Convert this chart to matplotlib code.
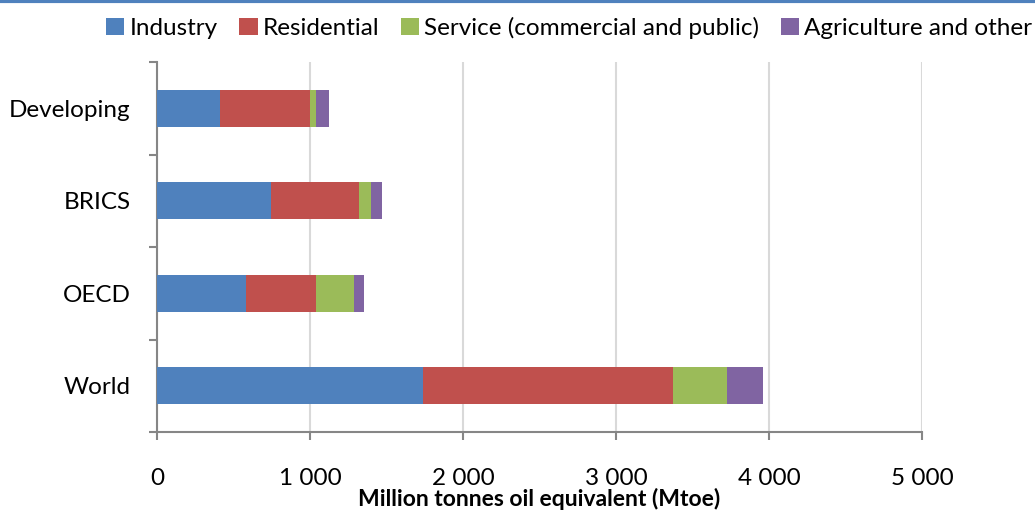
import matplotlib.pyplot as plt
from matplotlib.lines import Line2D
from matplotlib.ticker import FuncFormatter, FixedLocator

plt.rcParams['font.family'] = ['Lato', 'DejaVu Sans']

# Final energy consumption by sector (Mtoe)
regions = ['World', 'OECD', 'BRICS', 'Developing']
sectors = ['Industry', 'Residential', 'Service (commercial and public)', 'Agriculture and other']
industry = [1741, 582, 745, 412]
residential = [1632, 459, 575, 588]
service = [355, 244, 79, 37]
agriculture = [233, 70, 72, 89]
colors = ['#4f81bd', '#c0504d', '#9bbb59', '#8064a2']

fig = plt.figure(figsize=(10.35, 5.11), dpi=100)
ax = fig.add_axes([157 / 1035, 1 - 432 / 511, (922 - 157) / 1035, (432 - 62) / 511])

left = [0] * len(regions)
for name, vals, col in zip(sectors, [industry, residential, service, agriculture], colors):
    ax.barh(range(len(regions)), vals, left=left, height=0.4, color=col, label=name, zorder=3)
    left = [a + b for a, b in zip(left, vals)]

ax.set_xlim(0, 5000)
ax.set_ylim(-0.5, len(regions) - 0.5)
ax.set_xticks(range(0, 5001, 1000))
ax.xaxis.set_major_formatter(FuncFormatter(lambda v, p: f'{int(v):,}'.replace(',', ' ')))
ax.set_yticks(range(len(regions)))
ax.set_yticklabels(regions)
ax.yaxis.set_minor_locator(FixedLocator([i - 0.5 for i in range(len(regions) + 1)]))
ax.tick_params(axis='y', which='major', length=0, pad=19, labelsize=17.5)
ax.tick_params(axis='y', which='minor', length=6, width=1.5, color='#868686')
ax.tick_params(axis='x', length=6, width=1.5, color='#868686', pad=20, labelsize=17.5)

ax.grid(axis='x', color='#d9d9d9', linewidth=1.5, zorder=0)
for s in ['top', 'right']:
    ax.spines[s].set_visible(False)
for s in ['left', 'bottom']:
    ax.spines[s].set_color('#868686')
    ax.spines[s].set_linewidth(1.5)

ax.set_xlabel('Million tonnes oil equivalent (Mtoe)', fontsize=16.5, fontweight='bold', labelpad=-1)

ax.legend(loc='center right', bbox_to_anchor=(1032 / 1035, 1 - 28 / 511), bbox_transform=fig.transFigure,
          ncol=4, frameon=False, fontsize=17.5, handlelength=0.75, handleheight=0.75,
          handletextpad=0.2, columnspacing=0.9, borderaxespad=0, borderpad=0)

# blue rule along the top edge
fig.add_artist(Line2D([0, 1], [1 - 1.5 / 511, 1 - 1.5 / 511], color='#4f81bd', linewidth=3,
                      transform=fig.transFigure))

fig.savefig('out.png', dpi=100)
